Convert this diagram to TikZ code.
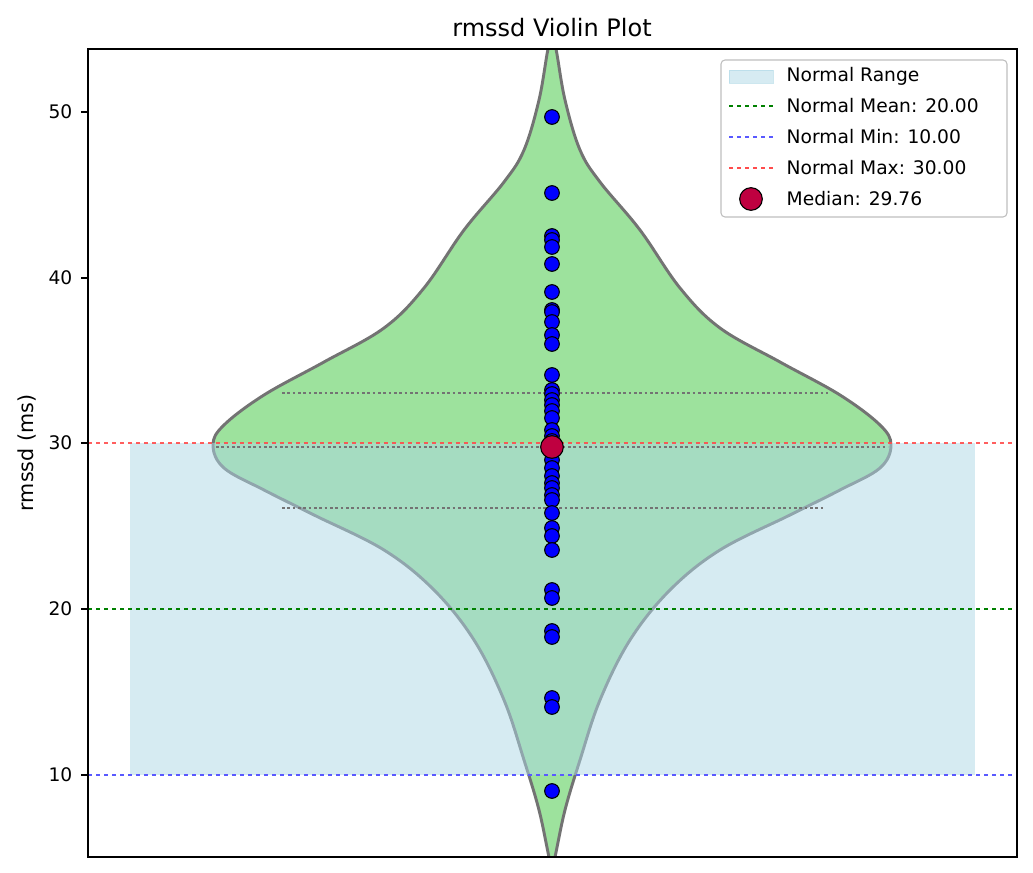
\documentclass[tikz,border=0pt]{standalone}
\usepackage{fontspec}
\setmainfont{DejaVu Sans}
\begin{document}
\begin{tikzpicture}[x=0.75pt,y=-0.75pt,
  tick/.style={font=\fontsize{14}{16}\selectfont,anchor=east},
  pt/.style={circle,draw=black,fill=blue,inner sep=0pt,minimum size=11pt,line width=0.8pt},
  quart/.style={draw=black!55,dotted,line width=2pt},
  leg/.style={font=\fontsize{14}{16}\selectfont,anchor=west}]
\useasboundingbox (0,0) rectangle (1033,873);
\definecolor{vgreen}{RGB}{157,226,157}
\definecolor{lblue}{RGB}{173,216,230}
% violin
\begin{scope}
\clip (88,49) rectangle (1017,857);
\draw[fill=vgreen,draw=black!55,line width=2.2pt] plot[smooth,tension=0.6] coordinates {(552,40)(556,49)(565,100)(580,150)(600,182)(640,230)(680,288)(720,328)(780,362)(840,395)(880,425)(891,445)(880,468)(840,490)(790,515)(720,550)(670,590)(630,640)(600,700)(580,760)(565,810)(555,857)(552,866)(549,857)(539,810)(524,760)(504,700)(474,640)(434,590)(384,550)(314,515)(264,490)(224,468)(213,445)(224,425)(264,395)(324,362)(384,328)(424,288)(464,230)(504,182)(524,150)(539,100)(548,49)(552,40)};
\end{scope}
\fill[lblue,opacity=0.5] (130,443) rectangle (975,775);
\draw[quart] (282,393) -- (828,393);
\draw[quart] (216,447) -- (888,447);
\draw[quart] (282,508) -- (824,508);
% reference lines
\draw[red!70,opacity=0.9,dashed,line width=1.5pt] (88,443) -- (1017,443);
\draw[green!50!black,dashed,line width=1.5pt] (88,609) -- (1017,609);
\draw[blue!65,dashed,line width=1.5pt] (88,775) -- (1017,775);
% points
\foreach \yy [count=\i] in {117,193,236,240,247,264,292,310,312,322,335,344,375,390,394,400,405,411,418,430,436,441,452,460,468,476,483,488,495,500,513,528,536,550,590,598,631,637,698,707,791}
  \node[pt] (p\i) at (552,\yy) {};
\node[circle,draw=black,fill=violet!70!black,fill=purple,inner sep=0pt,minimum size=17pt,line width=0.8pt] (med) at (552,447) {};
% axes
\draw[line width=0.8pt] (88,49) rectangle (1017,857);
\foreach \v/\yy in {10/775,20/609,30/443,40/278,50/112}{
  \draw[line width=0.8pt] (88,\yy) -- (81,\yy);
  \node[tick] at (77,\yy) {\v};}
\node[font=\fontsize{18}{20}\selectfont] (title) at (552,28) {rmssd Violin Plot};
\node[font=\fontsize{15.5}{18}\selectfont,rotate=90] (yl) at (27,453) {rmssd (ms)};
% legend
\draw[rounded corners=3pt,draw=black!25,fill=white,fill opacity=0.8,line width=0.8pt] (721,60) rectangle (1007,217);
\fill[lblue,opacity=0.5] (729,70) rectangle (773,83);
\draw[lblue,opacity=0.6] (729,70) rectangle (773,83);
\node[leg] (l1) at (782,76) {Normal Range};
\draw[green!50!black,dashed,line width=1.5pt] (729,106) -- (773,106);
\node[leg] (l2) at (782,106) {Normal Mean: 20.00};
\draw[blue!65,dashed,line width=1.5pt] (729,137) -- (773,137);
\node[leg] (l3) at (782,137) {Normal Min: 10.00};
\draw[red!70,dashed,line width=1.5pt] (729,168) -- (773,168);
\node[leg] (l4) at (782,168) {Normal Max: 30.00};
\node[circle,draw=black,fill=purple,inner sep=0pt,minimum size=17pt,line width=0.8pt] (lm) at (751,199) {};
\node[leg] (l5) at (782,199) {Median: 29.76};
\end{tikzpicture}
\end{document}
